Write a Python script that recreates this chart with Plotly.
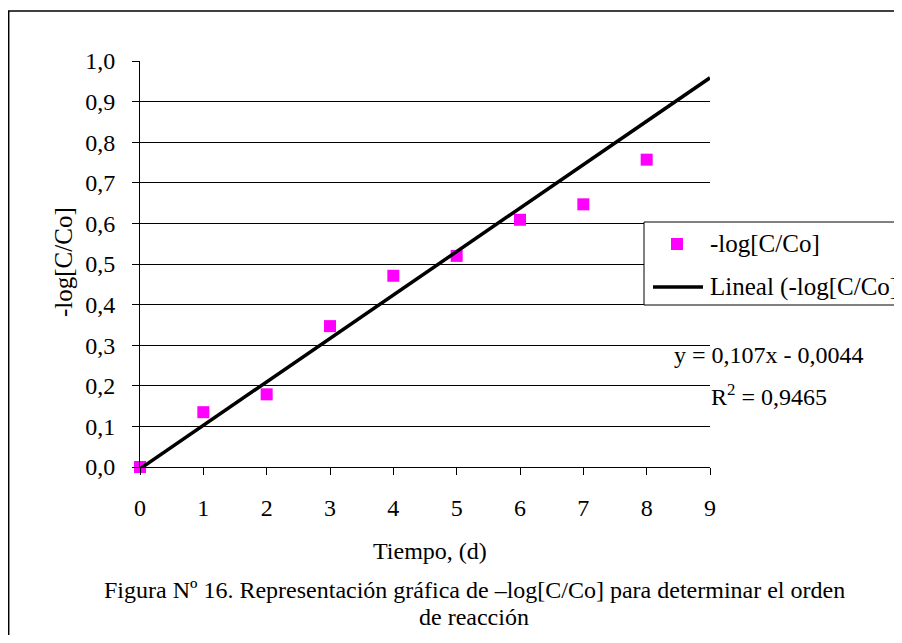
import plotly.graph_objects as go

# Data
tiempo = [0, 1, 2, 3, 4, 5, 6, 7, 8]
neg_log = [0.0, 0.135, 0.179, 0.347, 0.471, 0.520, 0.609, 0.647, 0.757]
trend_x = [0, 9]
slope = 0.107
intercept = -0.0044
trend_y = [slope * x + intercept for x in trend_x]

y_ticks = [0.0, 0.1, 0.2, 0.3, 0.4, 0.5, 0.6, 0.7, 0.8, 0.9, 1.0]
y_ticktext = ["0,0", "0,1", "0,2", "0,3", "0,4", "0,5", "0,6", "0,7", "0,8", "0,9", "1,0"]
x_ticks = [0, 1, 2, 3, 4, 5, 6, 7, 8, 9]

series_name = "-log[C/Co]"
trend_name = "Lineal (-log[C/Co])"
MARKER_COLOR = "#FF00FF"

FONT = "Liberation Serif"

# screen geometry (page body has an 8px margin; figure sized to avoid scrollbars)
OFF = 8
L, R, T, B = 140, 710, 61, 467
W, H = 902 - 2 * OFF, 643 - 2 * OFF
def px(x):
    return (x - L) / (R - L)
def py(y):
    return (B - y) / (B - T)

def note(text, sx, sy, size=24, angle=0, xanchor="center"):
    return dict(text=text, x=px(sx), y=py(sy), xref="paper", yref="paper",
                xanchor=xanchor, yanchor="middle", textangle=angle,
                showarrow=False, font=dict(family=FONT, size=size, color="black"))

fig = go.Figure()
fig.add_trace(go.Scatter(
    x=tiempo, y=neg_log, mode="markers", name=series_name,
    marker=dict(symbol="square", size=12, color=MARKER_COLOR),
    cliponaxis=False,
))
fig.add_trace(go.Scatter(
    x=trend_x, y=trend_y, mode="lines", name=trend_name,
    line=dict(color="black", width=3.5),
))

# outer frame: only its top and left sides are visible in the reference
frame_shapes = [
    dict(type="line", xref="paper", yref="paper",
         x0=px(8), x1=px(960), y0=py(11), y1=py(11),
         line=dict(color="black", width=1.5), layer="below"),
    dict(type="line", xref="paper", yref="paper",
         x0=px(8.7), x1=px(8.7), y0=py(11), y1=py(700),
         line=dict(color="black", width=1.5), layer="below"),
]

# legend box (drawn as shapes so it can run off the right edge like the reference)
legend_shapes = [
    dict(type="rect", xref="paper", yref="paper",
         x0=px(644), x1=px(960), y0=py(305), y1=py(222),
         line=dict(color="black", width=1), fillcolor="white", layer="above"),
    dict(type="rect", xref="paper", yref="paper",
         x0=px(671), x1=px(683), y0=py(250), y1=py(238),
         line=dict(width=0), fillcolor=MARKER_COLOR, layer="above"),
    dict(type="line", xref="paper", yref="paper",
         x0=px(653), x1=px(703), y0=py(287), y1=py(287),
         line=dict(color="black", width=3.5), layer="above"),
]

fig.update_layout(
    width=W, height=H, autosize=False,
    margin=dict(l=L - OFF, r=W - (R - OFF), t=T - OFF, b=H - (B - OFF), autoexpand=False),
    paper_bgcolor="white", plot_bgcolor="white",
    font=dict(family=FONT, size=24, color="black"),
    showlegend=False,
    xaxis=dict(
        range=[0, 9], tickvals=x_ticks, showgrid=False, zeroline=False,
        showline=True, linecolor="black", linewidth=1,
        ticks="outside", ticklen=7, tickcolor="black", tickwidth=1,
        ticklabelstandoff=12,
        tickfont=dict(family=FONT, size=24, color="black"),
    ),
    yaxis=dict(
        range=[0, 1], tickvals=y_ticks, ticktext=y_ticktext,
        showgrid=True, gridcolor="black", gridwidth=1, zeroline=False,
        showline=True, linecolor="black", linewidth=1,
        ticks="outside", ticklen=7, tickcolor="black", tickwidth=1,
        ticklabelstandoff=12,
        tickfont=dict(family=FONT, size=24, color="black"),
    ),
    shapes=frame_shapes + legend_shapes,
    annotations=[
        note(series_name, 708, 244, size=25, xanchor="left"),
        note(trend_name, 708, 287, size=25, xanchor="left"),
        note("-log[C/Co]", 63, 262, size=25, angle=-90),
        note("Tiempo, (d)", 430, 551),
        note("Figura Nº 16. Representación gráfica de –log[C/Co] para determinar el orden", 474, 590),
        note("de reacción", 474, 617),
        note("y = 0,107x - 0,0044", 769, 355),
        note("R<sup>2</sup> = 0,9465", 769, 395),
    ],
)

fig.write_html("out.html")
